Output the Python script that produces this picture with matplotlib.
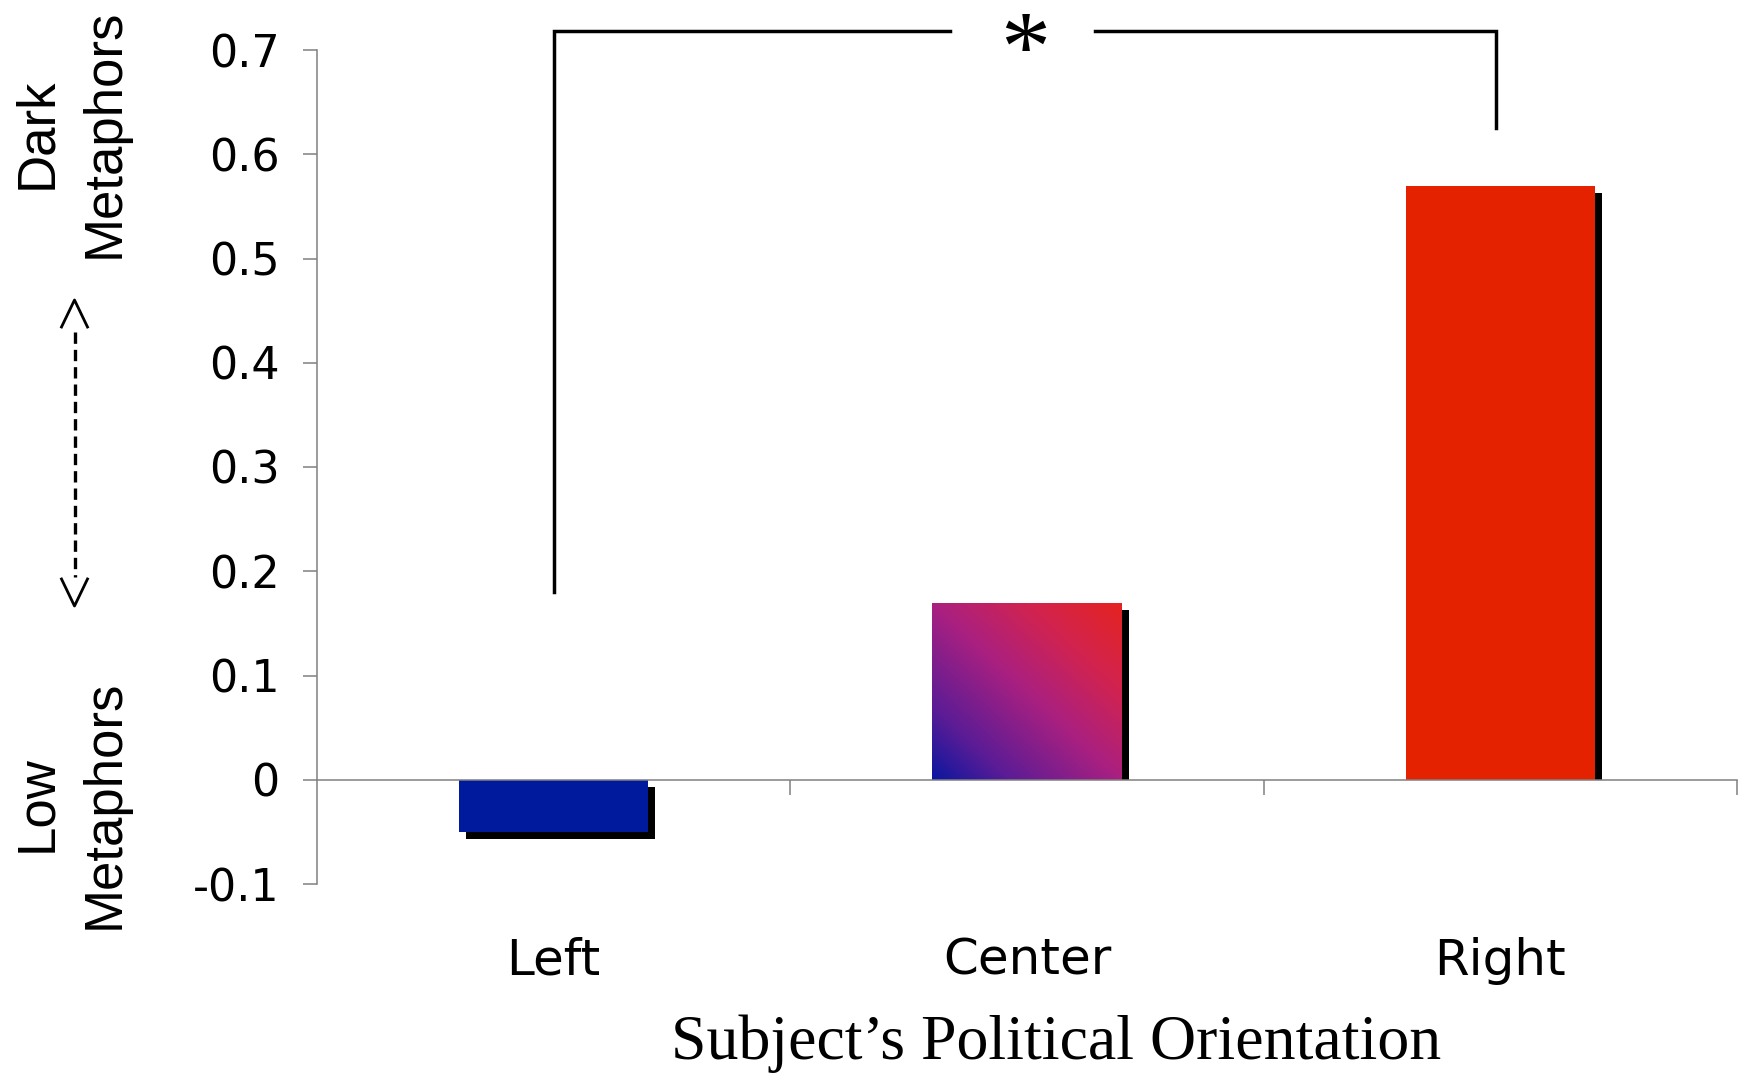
import numpy as np
import matplotlib
matplotlib.use("Agg")
import matplotlib.pyplot as plt
from matplotlib.colors import LinearSegmentedColormap
from matplotlib.lines import Line2D

# ---- data ----
categories = ["Left", "Center", "Right"]
values = [-0.05, 0.17, 0.57]
ytick_values = [-0.1, 0, 0.1, 0.2, 0.3, 0.4, 0.5, 0.6, 0.7]
ytick_labels = ["-0.1", "0", "0.1", "0.2", "0.3", "0.4", "0.5", "0.6", "0.7"]

# significance bracket Left vs Right
bracket_x = [0.0, 1.99]
bracket_top = 0.718
bracket_feet = [0.18, 0.625]
bracket_gap = [0.837, 1.143]

W, H = 1743, 1073
fig = plt.figure(figsize=(W / 100, H / 100), dpi=100)
ax = fig.add_axes([317 / W, 1 - 884 / H, 1420 / W, 834 / H])

def fx(px):
    return px / W

def fy(py):
    return 1 - py / H

x = np.arange(len(categories))
vals = np.array(values)
bar_w = 0.4
dx, dy = 0.0148, 0.0067

# drop shadow behind bars (cut at the zero line for positive bars)
sh_bottom = np.where(vals < 0, -dy, 0)
sh_height = np.where(vals < 0, vals, vals - dy)
ax.bar(x + dx, sh_height, bar_w, bottom=sh_bottom, color="black", zorder=1)

bar_colors = ["#001a9e", "none", "#e52200"]
bars = ax.bar(x, vals, bar_w, color=bar_colors, linewidth=0, zorder=2)

# diagonal blue -> red gradient for the Center bar
grad = LinearSegmentedColormap.from_list(
    "blue_red", [(0, "#0a179f"), (0.2, "#5a1c96"), (0.5, "#aa2080"),
                 (0.75, "#d2234f"), (1, "#e52420")])
u, v = np.meshgrid(np.linspace(0, 1, 200), np.linspace(0, 1, 200))
cb = bars[1]
img = ax.imshow((u + v) / 2, cmap=grad, origin="lower", aspect="auto",
                interpolation="bilinear", zorder=2,
                extent=[cb.get_x(), cb.get_x() + cb.get_width(), 0, cb.get_height()])
img.set_clip_path(cb)

ax.set_xlim(-0.5, 2.5)
ax.set_ylim(-0.1, 0.7)

# axes styling
for s in ["top", "right"]:
    ax.spines[s].set_visible(False)
ax.spines["left"].set_color("#808080")
ax.spines["left"].set_linewidth(1.1)
ax.spines["bottom"].set_position(("data", 0))
ax.spines["bottom"].set_color("#808080")
ax.spines["bottom"].set_linewidth(1.1)

ax.set_yticks(ytick_values, ytick_labels)
ax.tick_params(axis="y", labelsize=32, length=10, width=1.1, color="#808080", pad=17)
ax.set_xticks(x + 0.5, [""] * len(categories))
ax.tick_params(axis="x", length=11, width=1.1, color="#808080")

for xi, name in zip(x, categories):
    ax.text(xi, -0.109, name, transform=ax.get_xaxis_transform(),
            ha="center", va="baseline", fontsize=36, family="DejaVu Sans")

# bracket + star
ax.plot([bracket_x[0], bracket_x[0], bracket_gap[0]],
        [bracket_feet[0], bracket_top, bracket_top],
        color="black", lw=2.5, clip_on=False, solid_joinstyle="miter")
ax.plot([bracket_gap[1], bracket_x[1], bracket_x[1]],
        [bracket_top, bracket_top, bracket_feet[1]],
        color="black", lw=2.5, clip_on=False, solid_joinstyle="miter")
ax.text(np.mean(bracket_x), 0.672, "*", ha="center", va="baseline",
        fontsize=72, family="Liberation Serif", clip_on=False)

# x axis title
fig.text(fx(1056), fy(1059), "Subject\u2019s Political Orientation",
         ha="center", va="baseline", fontsize=46, family="Liberation Serif")

# side labels on the y axis
fig.text(fx(71), fy(133), "Dark\nMetaphors", rotation=90, ha="center", va="center",
         multialignment="center", fontsize=38, family="Liberation Sans", linespacing=1.45)
fig.text(fx(71), fy(804), "Low\nMetaphors", rotation=90, ha="center", va="center",
         multialignment="center", fontsize=38, family="Liberation Sans", linespacing=1.45)

# dashed double arrow between the side labels
fig.add_artist(Line2D([fx(74.5)] * 2, [fy(332), fy(577)], transform=fig.transFigure,
                      color="black", lw=2.4, linestyle=(0, (3.4, 1.8))))
fig.add_artist(Line2D([fx(61.5), fx(74.5), fx(87.5)], [fy(327), fy(300), fy(327)],
                      transform=fig.transFigure, color="black", lw=2))
fig.add_artist(Line2D([fx(61.5), fx(74.5), fx(87.5)], [fy(579), fy(606), fy(579)],
                      transform=fig.transFigure, color="black", lw=2))

fig.savefig("out.png", dpi=100, facecolor="white")
